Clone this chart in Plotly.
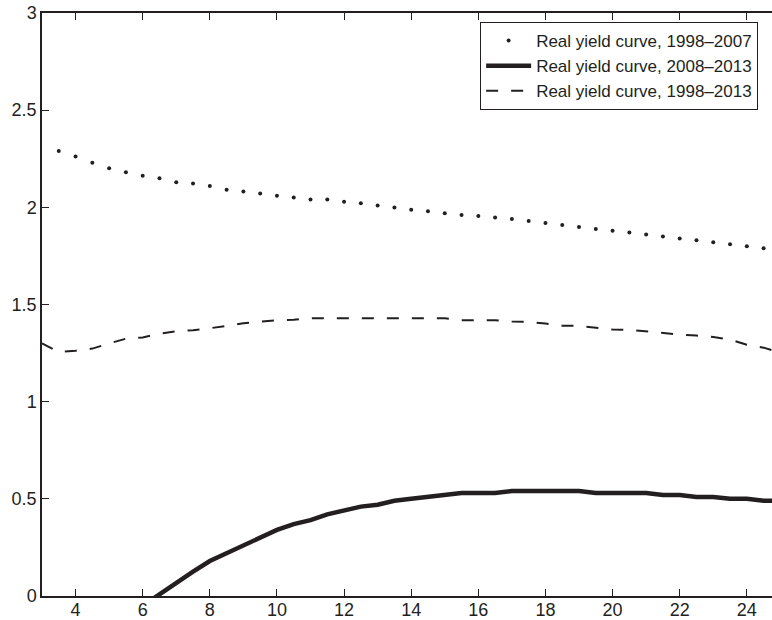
import plotly.graph_objects as go

# Maturity (years) grid
maturity_dot = [3.5, 4.0, 4.5, 5.0, 5.5, 6.0, 6.5, 7.0, 7.5, 8.0, 8.5, 9.0, 9.5, 10.0,
                10.5, 11.0, 11.5, 12.0, 12.5, 13.0, 13.5, 14.0, 14.5, 15.0, 15.5, 16.0,
                16.5, 17.0, 17.5, 18.0, 18.5, 19.0, 19.5, 20.0, 20.5, 21.0, 21.5, 22.0,
                22.5, 23.0, 23.5, 24.0, 24.5]
yield_1998_2007 = [2.29, 2.261, 2.23, 2.201, 2.181, 2.162, 2.15, 2.129, 2.122, 2.11, 2.09,
                   2.081, 2.071, 2.06, 2.05, 2.04, 2.04, 2.029, 2.021, 2.009, 1.999, 1.988,
                   1.98, 1.97, 1.961, 1.955, 1.948, 1.94, 1.93, 1.92, 1.909, 1.899, 1.889,
                   1.88, 1.87, 1.86, 1.85, 1.839, 1.831, 1.82, 1.81, 1.80, 1.79]

maturity_solid = [6.0, 6.42, 7.0, 7.5, 8.0, 8.5, 9.0, 9.5, 10.0, 10.5, 11.0, 11.5, 12.0,
                  12.5, 13.0, 13.5, 14.0, 14.5, 15.0, 15.5, 16.0, 16.5, 17.0, 17.5, 18.0,
                  18.5, 19.0, 19.5, 20.0, 20.5, 21.0, 21.5, 22.0, 22.5, 23.0, 23.5, 24.0,
                  24.5, 24.75]
yield_2008_2013 = [-0.05, 0.0, 0.07, 0.125, 0.18, 0.22, 0.26, 0.30, 0.34, 0.37, 0.39, 0.42,
                   0.44, 0.46, 0.47, 0.49, 0.50, 0.51, 0.52, 0.53, 0.53, 0.53, 0.54, 0.54,
                   0.54, 0.54, 0.54, 0.53, 0.53, 0.53, 0.53, 0.52, 0.52, 0.51, 0.51, 0.50,
                   0.50, 0.49, 0.49]

maturity_dash = [3.0, 3.5, 4.0, 4.5, 5.0, 5.5, 6.0, 6.5, 7.0, 7.5, 8.0, 8.5, 9.0, 9.5,
                 10.0, 10.5, 11.0, 11.5, 12.0, 12.5, 13.0, 13.5, 14.0, 14.5, 15.0, 15.5,
                 16.0, 16.5, 17.0, 17.5, 18.0, 18.5, 19.0, 19.5, 20.0, 20.5, 21.0, 21.5,
                 22.0, 22.5, 23.0, 23.5, 24.0, 24.5, 24.75]
yield_1998_2013 = [1.30, 1.255, 1.262, 1.273, 1.30, 1.324, 1.33, 1.35, 1.362, 1.368, 1.378,
                   1.389, 1.404, 1.411, 1.419, 1.422, 1.429, 1.429, 1.429, 1.429, 1.429,
                   1.429, 1.429, 1.429, 1.429, 1.419, 1.419, 1.419, 1.412, 1.41, 1.402,
                   1.391, 1.39, 1.38, 1.371, 1.37, 1.361, 1.353, 1.345, 1.34, 1.333, 1.32,
                   1.293, 1.278, 1.265]

x_ticks = [4, 6, 8, 10, 12, 14, 16, 18, 20, 22, 24]
y_ticks = [0, 0.5, 1, 1.5, 2, 2.5, 3]
y_tick_labels = ["0", "0.5", "1", "1.5", "2", "2.5", "3"]

INK = "#231f20"

fig = go.Figure()
fig.add_trace(go.Scatter(
    x=maturity_dot, y=yield_1998_2007, mode="markers",
    marker=dict(color=INK, size=4),
    name="Real yield curve, 1998\u20132007"))
fig.add_trace(go.Scatter(
    x=maturity_solid, y=yield_2008_2013, mode="lines",
    line=dict(color=INK, width=4.5),
    name="Real yield curve, 2008\u20132013"))
fig.add_trace(go.Scatter(
    x=maturity_dash, y=yield_1998_2013, mode="lines",
    line=dict(color=INK, width=2, dash="12px,13px"),
    name="Real yield curve, 1998\u20132013"))

fig.update_layout(
    width=772, height=620,
    margin=dict(l=42, r=0, t=13, b=24),
    paper_bgcolor="white", plot_bgcolor="white",
    font=dict(family="Liberation Sans, Arial, sans-serif", size=18, color=INK),
    showlegend=True,
    legend=dict(
        x=0.981, y=0.9846, xanchor="right", yanchor="top",
        bgcolor="white", bordercolor=INK, borderwidth=1,
        font=dict(size=17, color=INK),
        tracegroupgap=0, itemwidth=45,
    ),
    xaxis=dict(
        range=[3, 24.75], tickvals=x_ticks, automargin=False,
        showgrid=False, zeroline=False,
        showline=True, linecolor=INK, linewidth=1.5, mirror="ticks",
        ticks="inside", ticklen=7, tickwidth=1, tickcolor=INK,
        ticklabelstandoff=-3,
    ),
    yaxis=dict(
        range=[0, 3], tickvals=y_ticks, ticktext=y_tick_labels, automargin=False,
        showgrid=False, zeroline=False,
        showline=True, linecolor=INK, linewidth=1.5, mirror=False,
        ticks="inside", ticklen=7, tickwidth=1, tickcolor=INK,
        ticklabelstandoff=0,
    ),
)

# remove the browser's default 8px page margin so the figure fills the window exactly
fig.write_html(
    "out.html",
    config={"displayModeBar": False},
    post_script="document.body.style.margin='0';document.body.style.overflow='hidden';",
)
